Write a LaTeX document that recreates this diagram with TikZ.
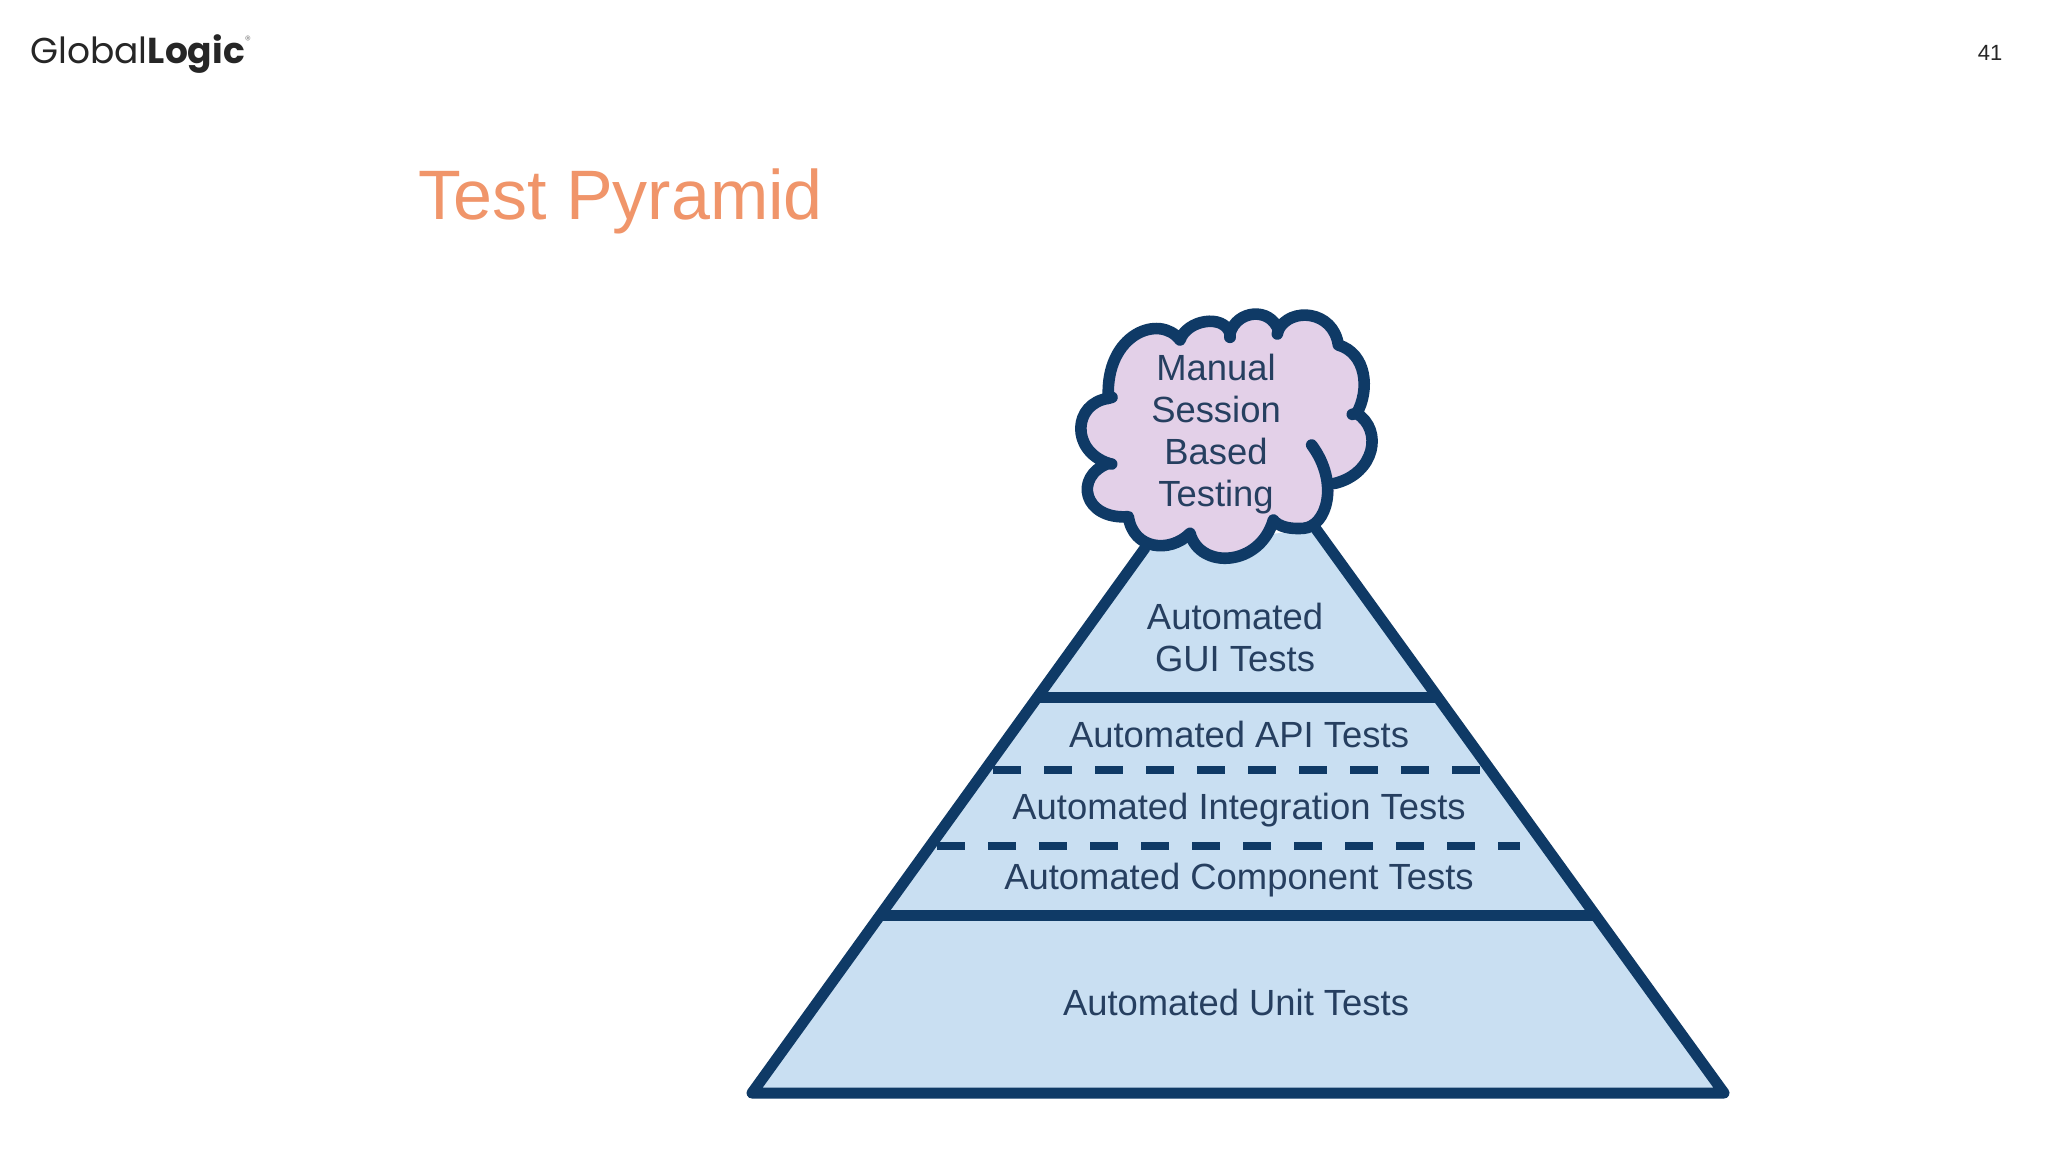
\documentclass[tikz,border=0pt]{standalone}
\usepackage{fontspec}
\setmainfont{Liberation Sans}
\newfontfamily\logofont{Poppins}
\definecolor{navy}{HTML}{0F3A66}
\definecolor{pyrfill}{HTML}{C9DFF2}
\definecolor{cloudfill}{HTML}{E3D0E8}
\definecolor{labelc}{HTML}{263F60}
\definecolor{titlec}{HTML}{F0956A}
\tikzset{
  edgeline/.style={draw=navy,line width=5.5pt,line cap=round,line join=round},
  barline/.style={draw=navy,line width=5.5pt},
  dashline/.style={draw=navy,line width=3.8pt,dash pattern=on 14pt off 11.5pt},
  cloudline/.style={draw=navy,line width=5.8pt,line cap=round,line join=round},
  lab/.style={text=labelc,font=\fontsize{18.2pt}{21pt}\selectfont,align=center,inner sep=0pt},
}
\begin{document}
\begin{tikzpicture}[x=0.5pt,y=-0.5pt]
\useasboundingbox (0,0) rectangle (2048,1152);
\fill[white] (0,0) rectangle (2048,1152);
% logo, page number, title
\node[anchor=base west,inner sep=0pt,font=\logofont\fontsize{18pt}{18pt}\selectfont,text=black!85] (logo) at (30,63) {Global\textbf{Logic}};
\node[anchor=center,inner sep=0pt,font=\logofont\fontsize{6pt}{6pt}\selectfont,text=black!45] (reg) at (248,40) {®};
\node[anchor=center,inner sep=0pt,font=\fontsize{11pt}{11pt}\selectfont,text=black!85] (pagenum) at (1990,53) {41};
\node[anchor=base west,inner sep=0pt,font=\fontsize{35pt}{35pt}\selectfont,text=titlec] (title) at (418,219) {Test Pyramid};
% pyramid
\coordinate (tl) at (1145,548);
\coordinate (tr) at (1316,529);
\coordinate (bl) at (752,1093);
\coordinate (br) at (1724,1093);
\fill[pyrfill] (tl) -- (tr) -- (br) -- (bl) -- cycle;
\coordinate (b1l) at (1038,697); \coordinate (b1r) at (1438,697);
\coordinate (b2l) at (880,915); \coordinate (b2r) at (1598,915);
\coordinate (d1l) at (993,770); \coordinate (d1r) at (1487,770);
\coordinate (d2l) at (937,846); \coordinate (d2r) at (1520,846);
\draw[barline] (b1l) -- (b1r);
\draw[barline] (b2l) -- (b2r);
\draw[dashline] (d1l) -- (d1r);
\draw[dashline] (d2l) -- (d2r);
\draw[edgeline] (tl) -- (bl) -- (br) -- (tr);
% cloud
\begin{scope}[shift={(1040,290)},scale=1/3]
\fill[cloudfill] (420,150)
  .. controls (440,90) and (550,70) .. (570,130)
  .. controls (590,60) and (690,50) .. (715,120)
  .. controls (750,50) and (880,60) .. (895,165)
  .. controls (980,190) and (990,300) .. (950,370)
  .. controls (1030,420) and (1005,550) .. (885,580)
  .. controls (880,640) and (860,710) .. (790,715)
  .. controls (750,718) and (715,710) .. (700,690)
  .. controls (660,830) and (480,840) .. (450,730)
  .. controls (390,790) and (280,780) .. (265,680)
  .. controls (130,690) and (100,560) .. (205,520)
  .. controls (90,480) and (100,340) .. (205,325)
  .. controls (195,130) and (360,70) .. (420,150) -- cycle;
\draw[cloudline] (885,580)
  .. controls (1005,550) and (1030,420) .. (950,370)
  .. controls (990,300) and (980,190) .. (895,165)
  .. controls (880,60) and (750,50) .. (715,120)
  .. controls (690,50) and (590,60) .. (570,130)
  .. controls (550,70) and (440,90) .. (420,150)
  .. controls (360,70) and (195,130) .. (205,325)
  .. controls (100,340) and (90,480) .. (205,520)
  .. controls (100,560) and (130,690) .. (265,680)
  .. controls (280,780) and (390,790) .. (450,730)
  .. controls (480,840) and (660,830) .. (700,690)
  .. controls (715,710) and (750,718) .. (790,715)
  .. controls (860,710) and (900,580) .. (815,465);
\draw[cloudline] (570,130) -- (570,142);
\draw[cloudline] (715,120) -- (712,132);
\draw[cloudline] (950,370) -- (937,373);
\draw[cloudline] (205,520) -- (215,522);
\draw[cloudline] (205,325) -- (216,322);
\end{scope}
% labels
\node[lab] (manual) at (1216,434) {Manual\\Session\\Based\\Testing};
\node[lab] (gui) at (1235,637) {Automated\\GUI Tests};
\node[lab] (api) at (1239,734) {Automated API Tests};
\node[lab] (integ) at (1239,810) {Automated Integration Tests};
\node[lab] (comp) at (1239,880) {Automated Component Tests};
\node[lab] (unit) at (1236,1002) {Automated Unit Tests};
\end{tikzpicture}
\end{document}
